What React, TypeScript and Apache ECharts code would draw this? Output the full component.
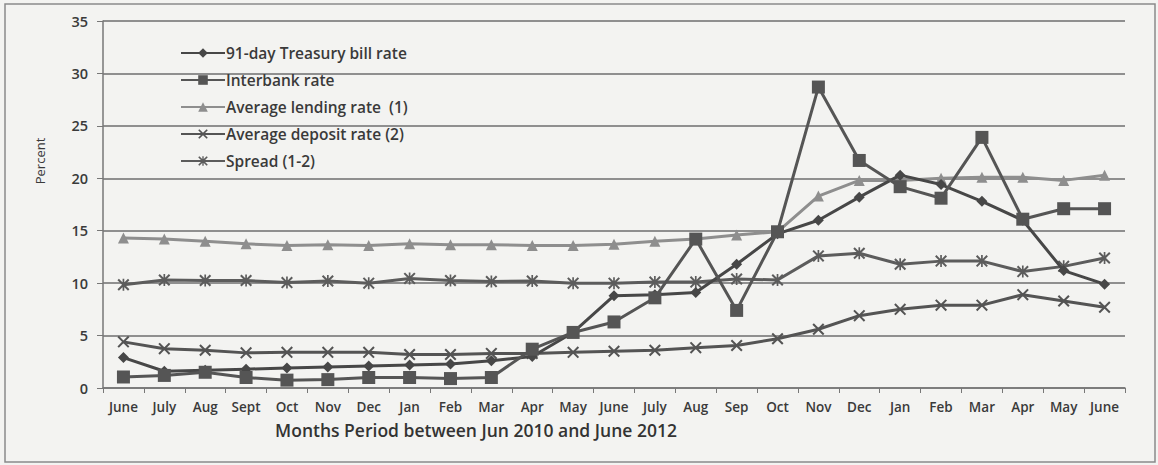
import React, { useEffect, useRef } from "react";
import * as echarts from "echarts";

// Month labels, June 2010 to June 2012
const months = [
  "June", "July", "Aug", "Sept", "Oct", "Nov", "Dec", "Jan", "Feb", "Mar", "Apr", "May",
  "June", "July", "Aug", "Sep", "Oct", "Nov", "Dec", "Jan", "Feb", "Mar", "Apr", "May", "June",
];

const yTicks = [0, 5, 10, 15, 20, 25, 30, 35];

const treasuryBill = [
  2.9, 1.6, 1.7, 1.8, 1.9, 2.0, 2.1, 2.2, 2.3, 2.6, 3.0, 5.3,
  8.8, 8.9, 9.1, 11.8, 14.7, 16.0, 18.2, 20.3, 19.4, 17.8, 16.0, 11.2, 9.9,
];
const interbank = [
  1.05, 1.2, 1.5, 1.0, 0.75, 0.8, 1.0, 1.0, 0.9, 1.0, 3.7, 5.3,
  6.3, 8.6, 14.2, 7.4, 14.9, 28.7, 21.7, 19.2, 18.1, 23.9, 16.1, 17.1, 17.1,
];
const lendingRate = [
  14.3, 14.2, 14.0, 13.75, 13.6, 13.65, 13.6, 13.75, 13.65, 13.65, 13.6, 13.6,
  13.7, 14.0, 14.2, 14.6, 14.9, 18.3, 19.8, 19.8, 20.0, 20.1, 20.1, 19.8, 20.3,
];
const depositRate = [
  4.4, 3.75, 3.6, 3.35, 3.4, 3.4, 3.4, 3.2, 3.2, 3.3, 3.3, 3.4,
  3.5, 3.6, 3.85, 4.05, 4.7, 5.6, 6.9, 7.5, 7.9, 7.9, 8.9, 8.3, 7.7,
];
const spread = [
  9.85, 10.3, 10.25, 10.25, 10.05, 10.2, 10.0, 10.45, 10.25, 10.15, 10.2, 10.0,
  10.0, 10.1, 10.1, 10.4, 10.3, 12.6, 12.85, 11.8, 12.1, 12.1, 11.1, 11.6, 12.4,
];

const seriesNames = [
  "91-day Treasury bill rate",
  "Interbank rate",
  "Average lending rate  (1)",
  "Average deposit rate (2)",
  "Spread (1-2)",
];

// Marker outlines
const crossSymbol =
  "path://M0,1.2 L1.2,0 L5,3.8 L8.8,0 L10,1.2 L6.2,5 L10,8.8 L8.8,10 L5,6.2 L1.2,10 L0,8.8 L3.8,5 Z";
const starSymbol =
  "path://M0,1.2 L1.2,0 L5,3.8 L8.8,0 L10,1.2 L6.2,5 L10,8.8 L8.8,10 L5,6.2 L1.2,10 L0,8.8 L3.8,5 Z M4.3,0 L5.7,0 L5.7,10 L4.3,10 Z";

const FONT = "'Open Sans', 'Liberation Sans', sans-serif";

export default function App() {
  const ref = useRef<HTMLDivElement>(null);

  useEffect(() => {
    if (!ref.current) return;
    const chart = echarts.init(ref.current, undefined, { renderer: "svg" });

    const mkSeries = (
      name: string,
      data: number[],
      color: string,
      symbol: string,
      symbolSize: number,
      z: number
    ) => ({
      name,
      type: "line",
      data,
      symbol,
      symbolSize,
      showAllSymbol: true,
      z,
      lineStyle: { color, width: 3 },
      itemStyle: { color, borderWidth: 0 },
      emphasis: { disabled: true },
    });

    chart.setOption({
      animation: false,
      backgroundColor: "#f3f3f1",
      textStyle: { fontFamily: FONT },
      grid: { left: 103, right: 33, top: 21, bottom: 77, containLabel: false },
      legend: {
        orient: "vertical",
        left: 180,
        top: 45,
        padding: 0,
        itemWidth: 44,
        itemHeight: 12,
        itemGap: 11,
        data: seriesNames,
        textStyle: { fontFamily: FONT, fontSize: 15.5, fontWeight: 600, color: "#3a3a3a", padding: [0, 0, 0, -4] },
      },
      xAxis: {
        type: "category",
        data: months,
        boundaryGap: true,
        axisLine: { lineStyle: { color: "#777", width: 1.5 } },
        axisTick: { show: true, length: 5, lineStyle: { color: "#777" } },
        axisLabel: { fontFamily: FONT, fontSize: 13.5, fontWeight: 600, color: "#3a3a3a", margin: 12, interval: 0 },
        splitLine: { show: false },
      },
      yAxis: {
        type: "value",
        min: yTicks[0],
        max: yTicks[yTicks.length - 1],
        interval: 5,
        axisLine: { show: true, lineStyle: { color: "#777", width: 1.5 } },
        axisTick: { show: true, length: 6, lineStyle: { color: "#777" } },
        axisLabel: { fontFamily: FONT, fontSize: 14.5, fontWeight: 600, color: "#3a3a3a", margin: 15 },
        splitLine: { show: true, lineStyle: { color: "#6e6e6e", width: 1.5 } },
      },
      graphic: [
        {
          type: "rect",
          shape: { x: 5, y: 4, width: 1150, height: 458 },
          style: { fill: "none", stroke: "#8a8a8a", lineWidth: 1.5 },
          silent: true,
          z: -1,
        },
        {
          type: "text",
          x: 40,
          y: 161,
          rotation: Math.PI / 2,
          style: {
            text: "Percent",
            fontFamily: FONT,
            fontSize: 13,
            fill: "#3a3a3a",
            align: "center",
            verticalAlign: "middle",
          },
        },
        {
          type: "text",
          x: 476,
          y: 430,
          style: {
            text: "Months Period between Jun 2010 and June 2012",
            fontFamily: FONT,
            fontSize: 17.5,
            fontWeight: 600,
            fill: "#333",
            align: "center",
            verticalAlign: "middle",
          },
        },
      ],
      series: [
        mkSeries(seriesNames[2], lendingRate, "#8e8e8e", "triangle", 11, 2),
        mkSeries(seriesNames[4], spread, "#5c5c5c", starSymbol, 12, 3),
        mkSeries(seriesNames[3], depositRate, "#545454", crossSymbol, 12, 3),
        mkSeries(seriesNames[0], treasuryBill, "#474747", "diamond", 11, 4),
        mkSeries(seriesNames[1], interbank, "#555555", "rect", 13, 5),
      ],
    });

    return () => chart.dispose();
  }, []);

  return (
    <div
      ref={ref}
      style={{ position: "fixed", left: 0, top: 0, width: 1158, height: 465 }}
    />
  );
}
